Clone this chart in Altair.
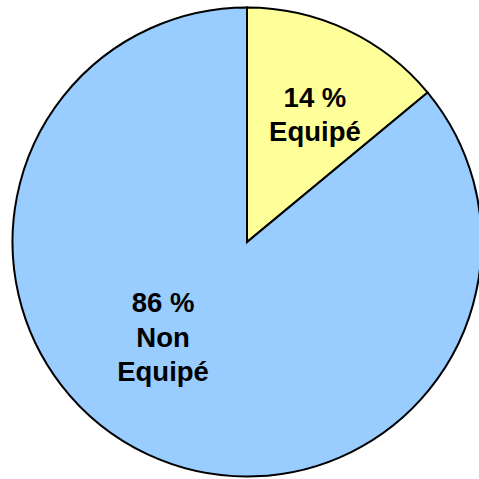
import altair as alt
import pandas as pd

# Share of households equipped vs. not equipped
categories = ["Equipé", "Non Equipé"]
percents = [14, 86]
slice_colors = ["#FFFF99", "#99CCFF"]

labels = [f"{p} %\n" + c.replace(" ", "\n") for c, p in zip(categories, percents)]
df = pd.DataFrame({
    "categorie": categories,
    "pct": percents,
    "ordre": list(range(len(categories))),
    "label": labels,
})

pie = alt.Chart(df).mark_arc(radius=234.5, stroke="black", strokeWidth=2).encode(
    theta=alt.Theta("pct:Q", stack=True),
    order=alt.Order("ordre:Q"),
    color=alt.Color(
        "categorie:N",
        scale=alt.Scale(domain=categories, range=slice_colors),
        legend=None,
    ),
)

# Label anchors sit at the middle angle of each slice, computed before filtering
label_base = (
    alt.Chart(df)
    .transform_stack(stack="pct", groupby=[], as_=["debut", "fin"], sort=[alt.SortField("ordre")])
    .transform_joinaggregate(total="sum(pct)")
    .transform_calculate(milieu="(datum.debut + datum.fin) / 2 / datum.total")
    .encode(
        theta=alt.Theta("milieu:Q", stack=None, scale=alt.Scale(domain=[0, 1])),
        text="label:N",
    )
)

text_style = dict(
    radius=130,
    font="Liberation Sans",
    fontWeight="bold",
    fontSize=27.5,
    lineHeight=34.5,
    lineBreak="\n",
    align="center",
    baseline="middle",
    color="black",
)

label_small = label_base.mark_text(dx=12.6, dy=-25.4, **text_style).transform_filter(
    alt.datum.categorie == categories[0]
)
label_large = label_base.mark_text(dx=-28.6, dy=-55.6, **text_style).transform_filter(
    alt.datum.categorie == categories[1]
)

chart = (
    alt.layer(pie, label_small, label_large)
    .resolve_scale(theta="independent")
    .properties(
        width=464,
        height=474,
        padding={"left": 15, "top": 5, "right": 0, "bottom": 0},
        autosize=alt.AutoSizeParams(type="none"),
        background="white",
    )
    .configure_view(stroke=None)
)

chart.save("out.html", embed_options={"renderer": "svg", "actions": False})
